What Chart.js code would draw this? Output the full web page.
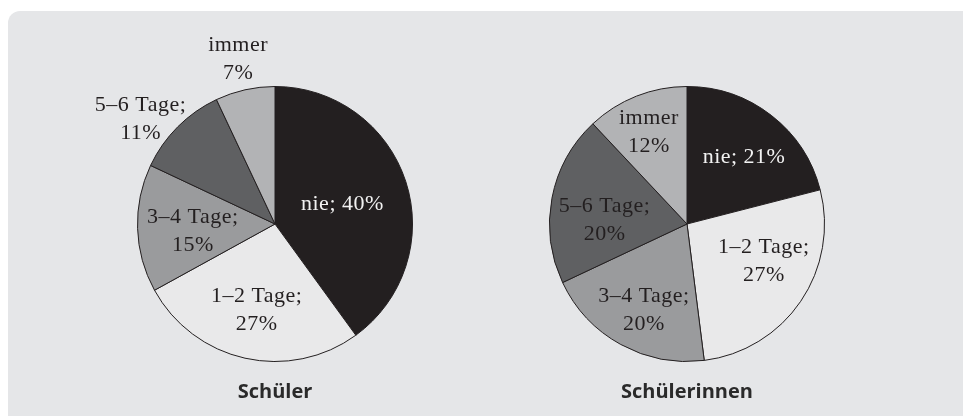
<!DOCTYPE html>
<html>
<head>
<meta charset="utf-8">
<script src="https://cdn.jsdelivr.net/npm/chart.js@4/dist/chart.umd.min.js"></script>
<style>
  html, body { margin: 0; padding: 0; background: #ffffff; }
  #wrap { position: relative; width: 963px; height: 416px; overflow: hidden; }
  #panel {
    position: absolute; left: 8px; top: 11px; right: -20px; bottom: -20px;
    background: #e5e6e8; border-top-left-radius: 12px;
  }
  canvas { position: absolute; top: 0; }
  #boys { left: 0px; }
  #girls { left: 412px; }
</style>
</head>
<body>
<div id="wrap">
  <div id="panel"></div>
  <canvas id="boys" width="550" height="416"></canvas>
  <canvas id="girls" width="550" height="416"></canvas>
</div>
<script>
var categories = ["nie", "1–2 Tage", "3–4 Tage", "5–6 Tage", "immer"];
var boysValues = [40, 27, 15, 11, 7];
var girlsValues = [21, 27, 20, 20, 12];

// label text joiner after the category name
var joiners = ["; ", ";\n", ";\n", ";\n", "\n"];

var sliceColors = ["#231f20", "#e9e9ea", "#9a9b9d", "#5f6062", "#b2b3b5"];
var textColors = ["#f2f2f2", "#231f20", "#231f20", "#231f20", "#231f20"];

// where each label sits: [fraction of radius, angle shift in degrees]
var boysLabelPos = [[0.51, 2], [0.64, -0.6], [0.6, -3], [1.24, -7], [1.23, 0]];
var girlsLabelPos = [[0.64, 2.6], [0.62, -8.5], [0.70, -2.2], [0.6, -8], [0.72, -1]];

var sliceLabels = {
    id: "sliceLabels",
    afterDatasetsDraw: function(chart, args, opts) {
        var ctx = chart.ctx;
        var meta = chart.getDatasetMeta(0);
        var values = chart.data.datasets[0].data;
        ctx.save();
        ctx.font = "22px 'Liberation Serif'";
        ctx.letterSpacing = "0.5px";
        ctx.textAlign = "center";
        ctx.textBaseline = "middle";
        meta.data.forEach(function(arc, i) {
            var p = arc.getProps(["x", "y", "startAngle", "endAngle", "outerRadius"], true);
            var pos = opts.positions[i];
            var mid = (p.startAngle + p.endAngle) / 2 + pos[1] * Math.PI / 180;
            var r = p.outerRadius * pos[0];
            var cx = p.x + Math.cos(mid) * r;
            var cy = p.y + Math.sin(mid) * r;
            var lines = (categories[i] + joiners[i] + values[i] + "%").split("\n");
            var lh = 28;
            ctx.fillStyle = textColors[i];
            lines.forEach(function(line, k) {
                ctx.fillText(line, cx, cy + (k - (lines.length - 1) / 2) * lh);
            });
        });
        ctx.restore();
    }
};

function initPie(elementId, values, title, positions) {
    var config = {
        type: "pie",
        data: {
            labels: categories,
            datasets: [{
                data: values,
                backgroundColor: sliceColors,
                borderColor: "#231f20",
                borderWidth: 1
            }]
        },
        options: {
            responsive: false,
            animation: false,
            devicePixelRatio: 1,
            layout: { padding: { top: 86, bottom: 0, left: 0, right: 0 } },
            plugins: {
                legend: { display: false },
                tooltip: { enabled: false },
                title: {
                    display: true,
                    text: title,
                    position: "bottom",
                    color: "#2a2a2a",
                    font: { family: "'Open Sans'", size: 20, weight: "bold", lineHeight: 1.2 },
                    padding: { top: 18, bottom: 12 }
                },
                sliceLabels: { positions: positions }
            }
        },
        plugins: [sliceLabels]
    };
    return new Chart(document.getElementById(elementId).getContext("2d"), config);
}

initPie("boys", boysValues, "Schüler", boysLabelPos);
initPie("girls", girlsValues, "Schülerinnen", girlsLabelPos);
</script>
</body>
</html>
